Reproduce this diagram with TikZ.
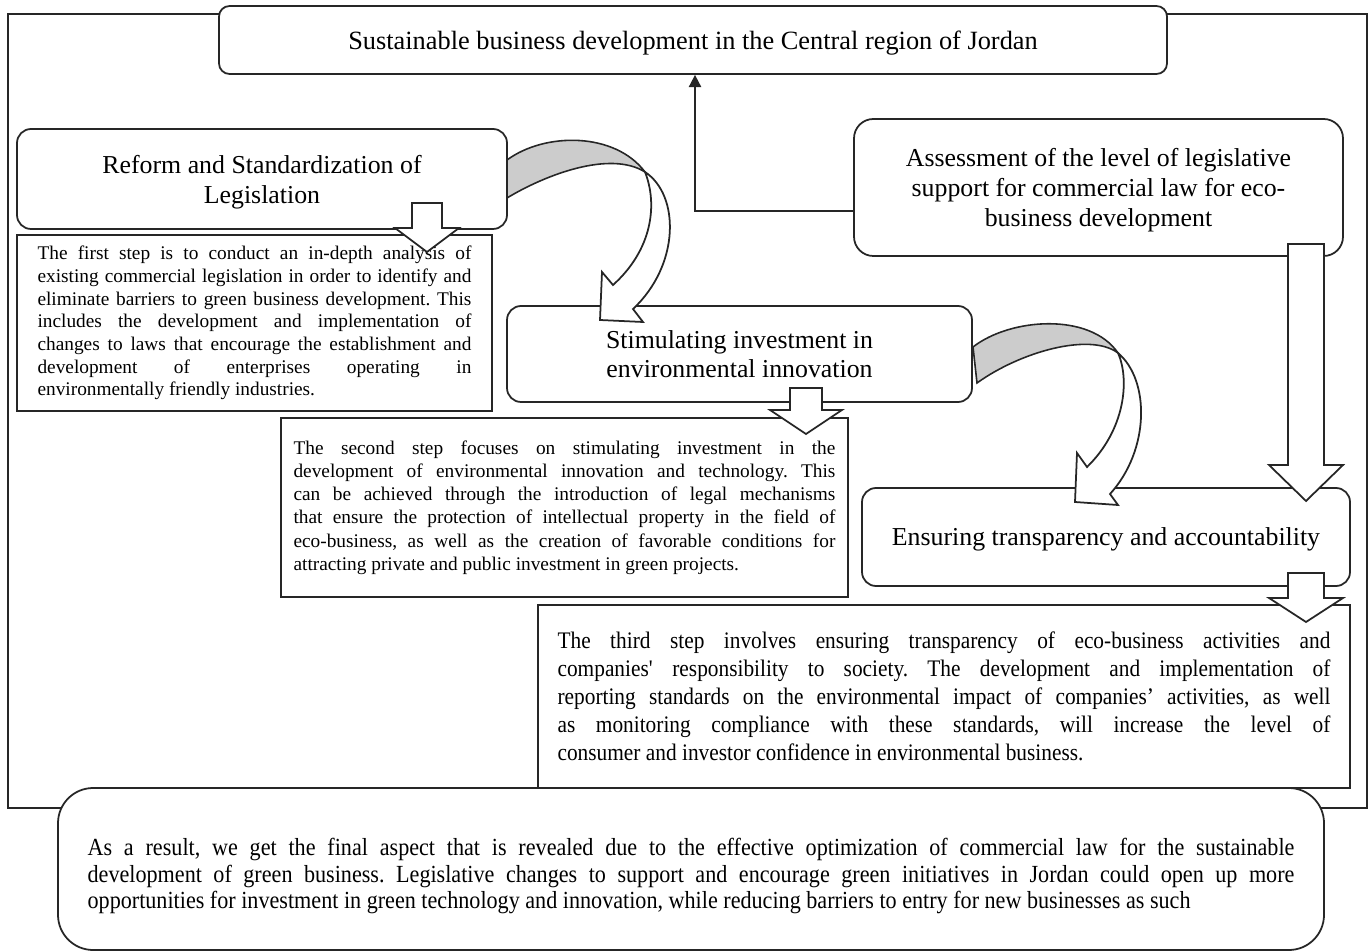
\documentclass[tikz,border=0pt]{standalone}
\usepackage{fontspec}
\setmainfont{Liberation Serif}
\newfontfamily\narrowserif[FakeStretch=0.9]{Liberation Serif}
\usetikzlibrary{arrows.meta,positioning}

\tolerance=10000
\hbadness=10000
\hyphenpenalty=10000
\frenchspacing

\tikzset{
  sz/.style 2 args={minimum width=#1*0.02cm, minimum height=#2*0.02cm},
  headbox/.style={draw=black!85, line width=1pt, fill=white, rounded corners=8pt,
    inner sep=0pt, align=center, text depth=0pt, font=\fontsize{14.7}{17}\selectfont},
  notebox/.style={draw=black!85, line width=1pt, fill=white, inner sep=0pt, align=justify},
  hollow/.style={draw=black!85, line width=1pt, fill=white, line join=miter},
  band/.style={draw=black!85, line width=0.9pt, fill=black!20},
  conn/.style={draw=black!85, line width=1pt, -{Triangle[width=7pt,length=7pt]}}
}

% hollow down arrow: x, top, base, tip, shaft half width, head half width
\newcommand{\hollowdown}[6]{%
  \draw[hollow] (#1-#5,#2) -- (#1+#5,#2) -- (#1+#5,#3) -- (#1+#6,#3) -- (#1,#4)
    -- (#1-#6,#3) -- (#1-#5,#3) -- cycle;}

\begin{document}
\begin{tikzpicture}[x=0.02cm, y=-0.02cm]
    \useasboundingbox (0,0) rectangle (1372,952);

    % outer frame
    \draw[draw=black!85, line width=1pt] (8,14) rectangle (1367,808);

    % result
    \node[headbox, sz={1266}{162}, rounded corners=20pt] (result) at (691,869) {};
    \node[text width=24.14cm, align=justify, inner sep=0pt,
      font=\narrowserif\fontsize{14}{15}\selectfont] (resulttext) at (691,876)
      {As a result, we get the final aspect that is revealed due to the effective optimization of commercial law for the sustainable\linebreak
       development of green business. Legislative changes to support and encourage green initiatives in Jordan could open up more\linebreak
       opportunities for investment in green technology and innovation, while reducing barriers to entry for new businesses as such};

    % goal
    \node[headbox, sz={948}{68}, rounded corners=6pt, font=\fontsize{15}{17}\selectfont] (title) at (693,40)
      {Sustainable business development in the Central region of Jordan};

    % steps
    \node[headbox, sz={490}{100}] (reform) at (262,179)
      {Reform and Standardization of\\Legislation};
    \node[headbox, sz={489}{137}, rounded corners=11pt] (assess) at (1098.5,187.5)
      {Assessment of the level of legislative\\support for commercial law for eco-\\business development};
    \node[headbox, sz={465}{96}] (stim) at (739.5,354)
      {Stimulating investment in\\environmental innovation};
    \node[headbox, sz={488}{98}] (ensure) at (1106,537)
      {Ensuring transparency and accountability};

    % step texts
    \node[notebox, sz={475}{176}, text width=8.68cm, font=\fontsize{11}{12.9}\selectfont] (stepone) at (254.5,323)
      {The first step is to conduct an in-depth analysis of\linebreak
       existing commercial legislation in order to identify and\linebreak
       eliminate barriers to green business development. This\linebreak
       includes the development and implementation of\linebreak
       changes to laws that encourage the establishment and\linebreak
       development of enterprises operating in\linebreak
       environmentally friendly industries.};
    \node[notebox, sz={567}{179}, text width=10.84cm, font=\fontsize{11}{13.2}\selectfont] (steptwo) at (564.5,507.5)
      {The second step focuses on stimulating investment in the\linebreak
       development of environmental innovation and technology. This\linebreak
       can be achieved through the introduction of legal mechanisms\linebreak
       that ensure the protection of intellectual property in the field of\linebreak
       eco-business, as well as the creation of favorable conditions for\linebreak
       attracting private and public investment in green projects.};
    \node[notebox, sz={812}{183}, text width=15.46cm, font=\narrowserif\fontsize{13.5}{15.9}\selectfont] (stepthree) at (944,696.5)
      {The third step involves ensuring transparency of eco-business activities and\linebreak
       companies\textquotesingle{} responsibility to society. The development and implementation of\linebreak
       reporting standards on the environmental impact of companies’ activities, as well\linebreak
       as monitoring compliance with these standards, will increase the level of\linebreak
       consumer and investor confidence in environmental business.};

    % connector to goal
    \coordinate (jn) at (695,211);
    \draw[conn] (assess.west |- jn) -- (jn) -- (title.south -| jn);

    % hollow arrows
    \hollowdown{427}{203}{228}{252}{15}{32}
    \hollowdown{806}{388}{410}{434}{16}{36}
    \hollowdown{1306}{244}{465}{501}{18}{37}
    \hollowdown{1306}{573}{598}{622}{18}{37}

    % curved arrow reform -> stim
    \draw[band] (507,160) .. controls (545,132) and (615,132) .. (645,172)
      .. controls (610,150) and (545,175) .. (507,198) -- cycle;
    \draw[hollow] (645,172) .. controls (658,205) and (652,250) .. (613,285)
      -- (602,272) -- (600,320) -- (643,322) -- (633,309)
      .. controls (680,265) and (680,195) .. (645,172) -- cycle;

    % curved arrow stim -> ensure
    \draw[band] (973,347) .. controls (1010,318) and (1090,312) .. (1118,353)
      .. controls (1090,332) and (1020,352) .. (977,383) -- cycle;
    \draw[hollow] (1118,353) .. controls (1130,380) and (1125,430) .. (1087,467)
      -- (1077,453) -- (1075,502) -- (1118,505) -- (1110,494)
      .. controls (1150,450) and (1150,380) .. (1118,353) -- cycle;
\end{tikzpicture}
\end{document}
